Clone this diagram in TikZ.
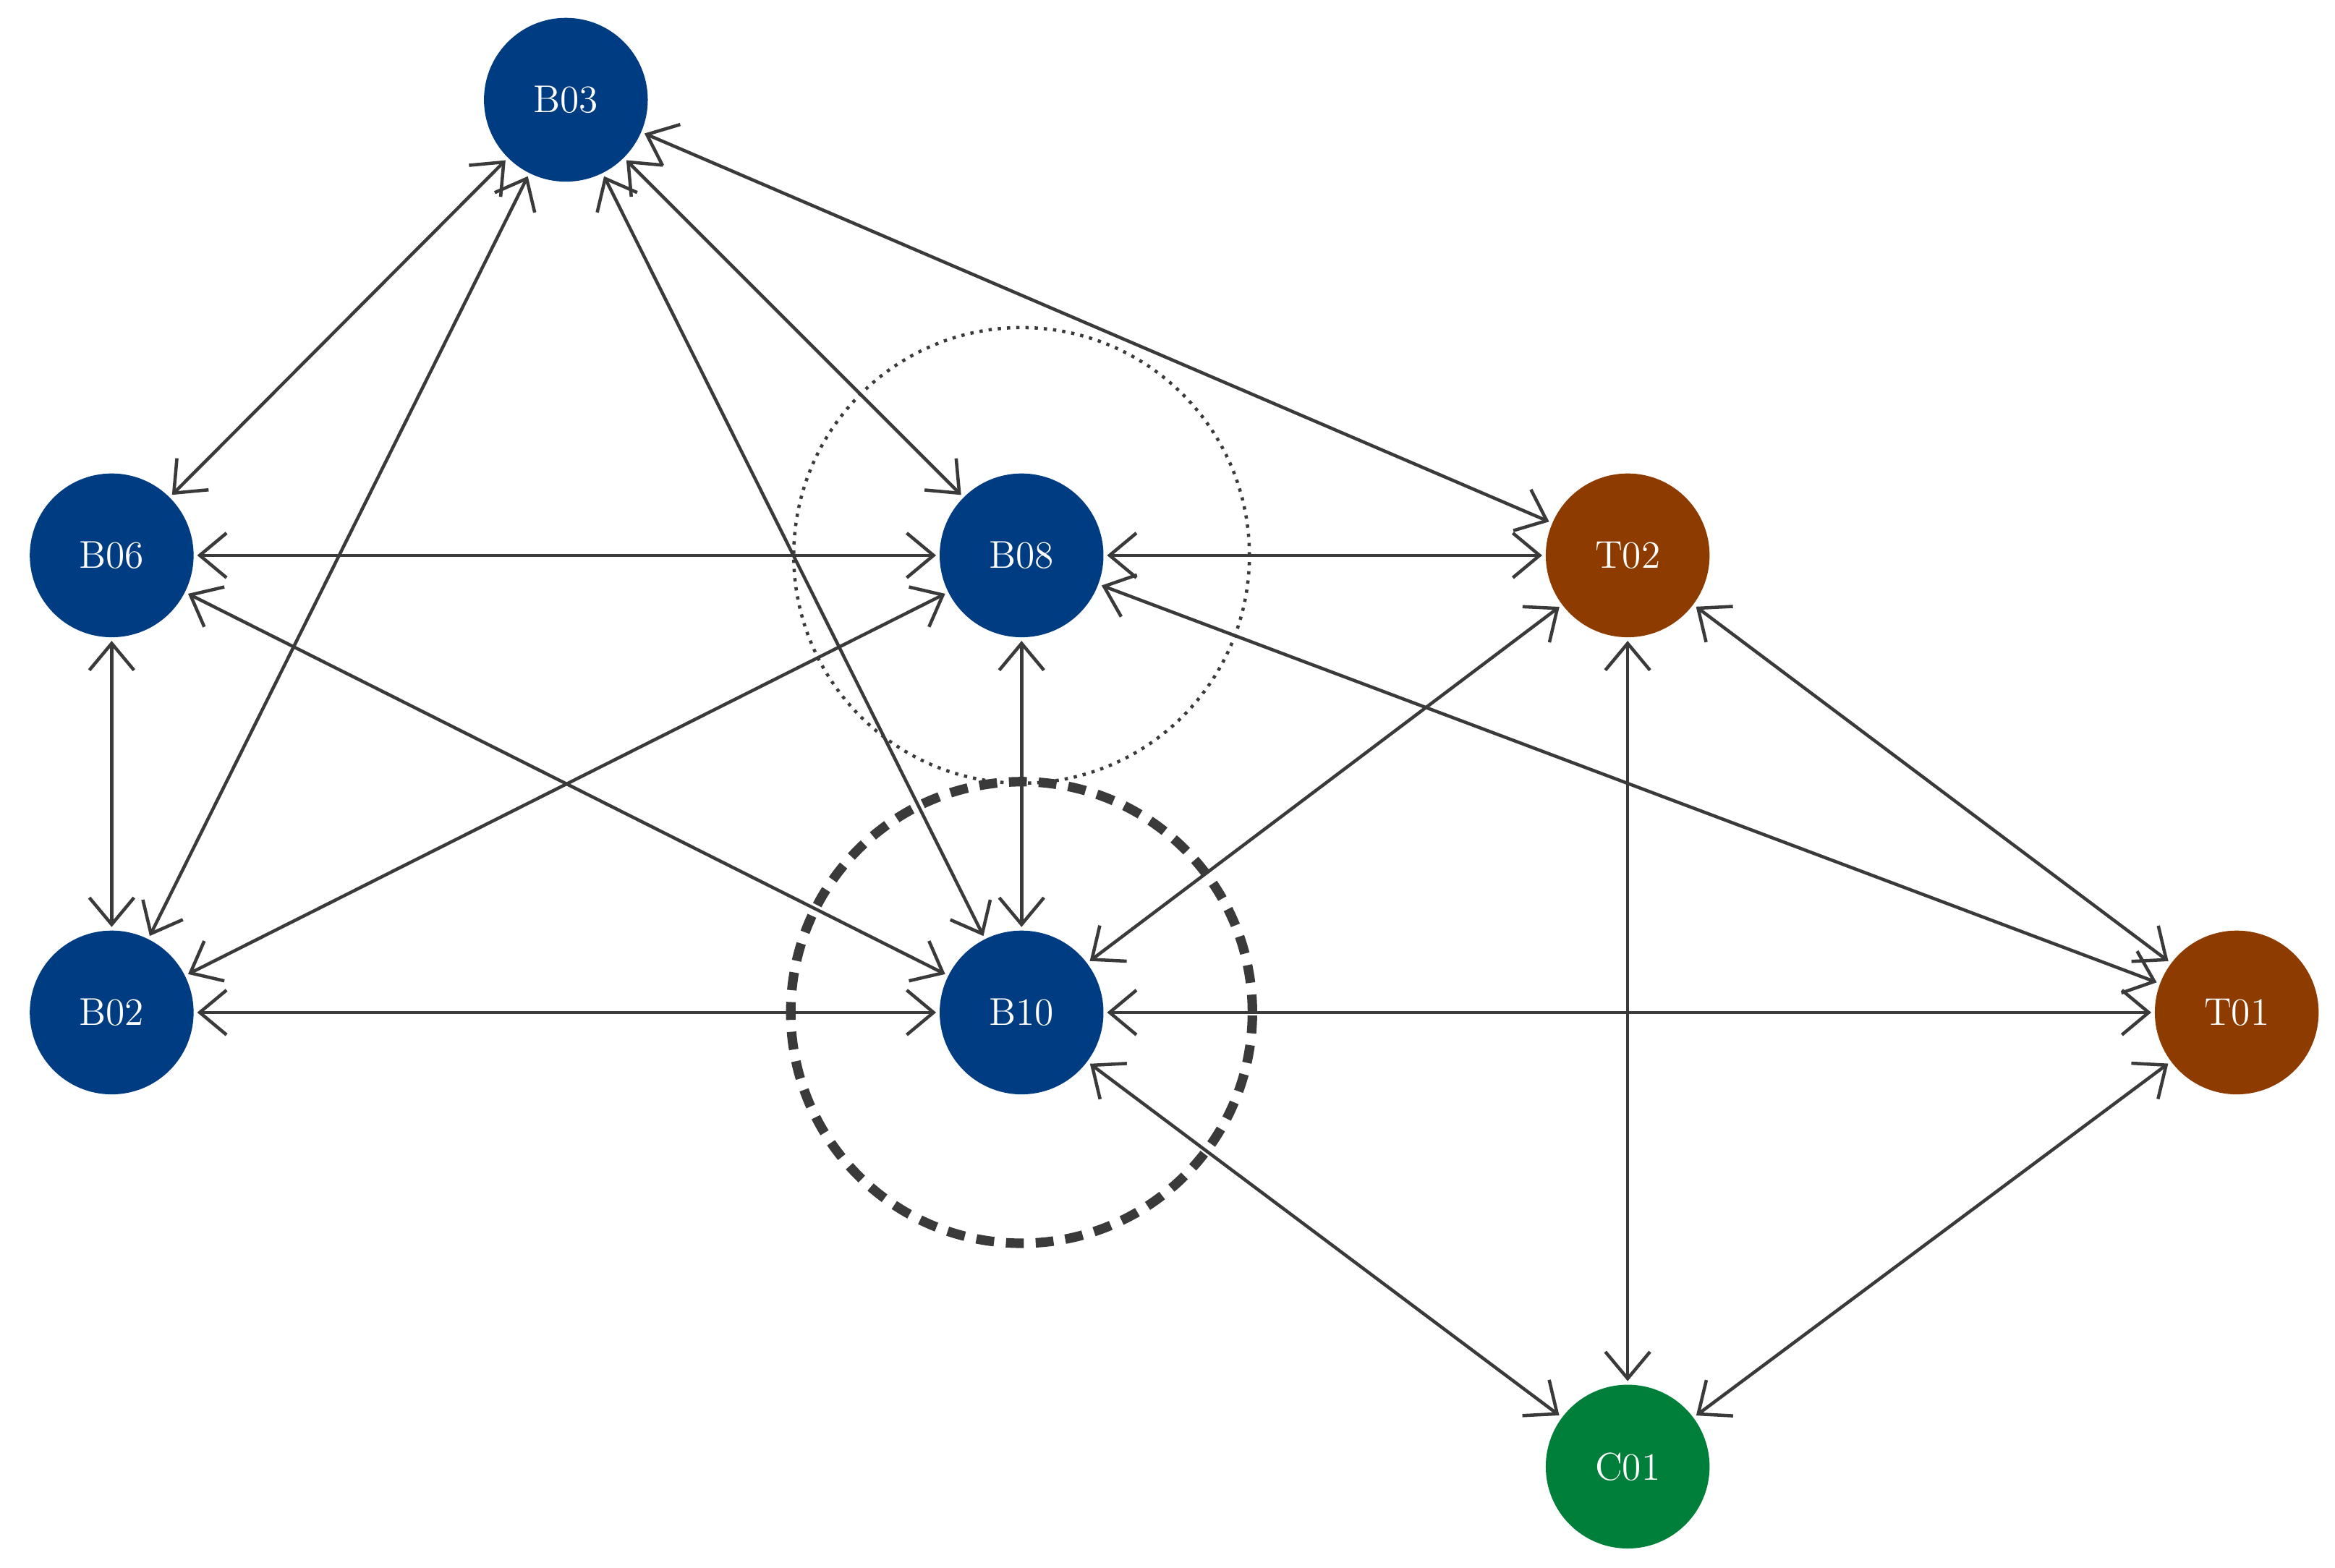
\documentclass[tikz,border=0pt]{standalone}
\usetikzlibrary{arrows.meta}
\definecolor{nb}{HTML}{003C82}
\definecolor{nt}{HTML}{8E3B00}
\definecolor{nc}{HTML}{007F3B}
\definecolor{ed}{HTML}{3A3A3A}
\begin{document}
\begin{tikzpicture}[x=0.5pt,y=-0.5pt,
  n/.style={circle,minimum size=55pt,inner sep=0pt,text=white,font=\fontsize{13}{15}\selectfont},
  e/.style={draw=ed,line width=1.1pt,{Straight Barb[length=9pt,width=15pt]}-{Straight Barb[length=9pt,width=15pt]},shorten <=1pt,shorten >=1pt}]
\useasboundingbox (0,0) rectangle (1568,1053);
\draw[ed,line width=1.1pt,dotted] (686,373) circle[radius=76.5pt];
\draw[ed,line width=3.2pt,dash pattern=on 6pt off 4pt] (686,680) circle[radius=77.5pt];
\node[n,fill=nb] (B03) at (380,67) {B03};
\node[n,fill=nb] (B06) at (75,373) {B06};
\node[n,fill=nb] (B08) at (686,373) {B08};
\node[n,fill=nt] (T02) at (1093,373) {T02};
\node[n,fill=nb] (B02) at (75,680) {B02};
\node[n,fill=nb] (B10) at (686,680) {B10};
\node[n,fill=nt] (T01) at (1502,680) {T01};
\node[n,fill=nc] (C01) at (1093,985) {C01};
\foreach \a/\b in {B03/B06,B03/B02,B03/B08,B03/B10,B03/T02,B06/B08,B06/B02,B06/B10,
  B08/T02,B08/B02,B08/B10,B08/T01,T02/B10,T02/T01,T02/C01,B02/B10,B10/T01,B10/C01,T01/C01}
  \draw[e] (\a) -- (\b);
\end{tikzpicture}
\end{document}
